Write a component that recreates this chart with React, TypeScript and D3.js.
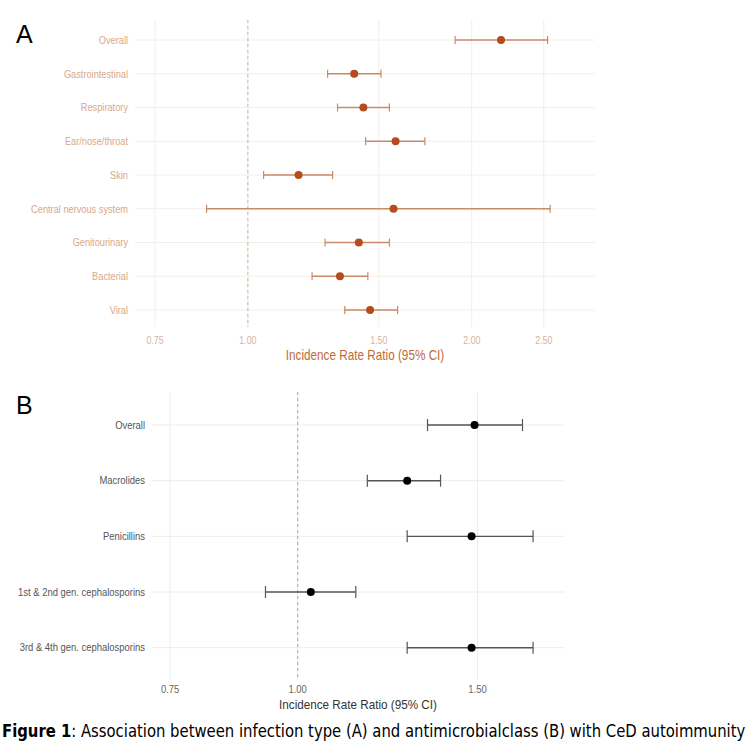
import React, { useRef, useLayoutEffect, useState } from 'react';
import * as d3 from 'd3';

// panel A: infection type
const typeLabels = ['Overall', 'Gastrointestinal', 'Respiratory', 'Ear/nose/throat', 'Skin', 'Central nervous system', 'Genitourinary', 'Bacterial', 'Viral'];
const typeIRR = [2.19, 1.39, 1.43, 1.58, 1.17, 1.57, 1.41, 1.33, 1.46];
const typeLow = [1.90, 1.28, 1.32, 1.44, 1.05, 0.88, 1.27, 1.22, 1.35];
const typeHigh = [2.53, 1.51, 1.55, 1.73, 1.30, 2.55, 1.55, 1.45, 1.59];
const typeTicks = [0.75, 1.0, 1.5, 2.0, 2.5];

// panel B: antimicrobial class
const classLabels = ['Overall', 'Macrolides', 'Penicillins', '1st & 2nd gen. cephalosporins', '3rd & 4th gen. cephalosporins'];
const classIRR = [1.49, 1.28, 1.48, 1.03, 1.48];
const classLow = [1.34, 1.17, 1.28, 0.93, 1.28];
const classHigh = [1.66, 1.38, 1.70, 1.14, 1.70];
const classTicks = [0.75, 1.0, 1.5];

const FONT = 'Liberation Sans, Arial, sans-serif';

// squeezed text, the source figure is compressed sideways
const Txt = ({ x, y, sx = 1, size, fill, anchor = 'start', dy = null, children }) => (
  <text transform={`translate(${x},${y}) scale(${sx},1)`} dy={dy} textAnchor={anchor} fontSize={size} fill={fill} fontFamily={FONT}>{children}</text>
);

const Forest = ({ labels, irr, lo, hi, ticks, domain, xRange, yRange, gridTop, gridBottom, labelX, tickY, titleY, col }) => {
  const x = d3.scaleLog().domain(domain).range(xRange);
  const y = d3.scalePoint().domain(labels).range(yRange);
  const cap = col.cap;
  return (
    <g>
      {labels.map((l) => (
        <line key={'h' + l} x1={xRange[0]} x2={xRange[1]} y1={y(l)} y2={y(l)} stroke={col.grid} strokeWidth={1} />
      ))}
      {ticks.map((t) => (
        <line key={'v' + t} x1={x(t)} x2={x(t)} y1={gridTop} y2={gridBottom} stroke={col.grid} strokeWidth={1} />
      ))}
      <line x1={x(1)} x2={x(1)} y1={gridTop} y2={gridBottom} stroke={col.ref} strokeWidth={1} strokeDasharray="3,3" />
      {labels.map((l, i) => (
        <g key={'e' + l}>
          <line x1={x(lo[i])} x2={x(hi[i])} y1={y(l)} y2={y(l)} stroke={col.bar} strokeWidth={1.4} />
          <line x1={x(lo[i])} x2={x(lo[i])} y1={y(l) - cap} y2={y(l) + cap} stroke={col.bar} strokeWidth={1.2} />
          <line x1={x(hi[i])} x2={x(hi[i])} y1={y(l) - cap} y2={y(l) + cap} stroke={col.bar} strokeWidth={1.2} />
          <circle cx={x(irr[i])} cy={y(l)} r={col.r} fill={col.point} />
          <Txt x={labelX} y={y(l)} dy="0.35em" sx={col.sx} anchor="end" size={col.labelSize} fill={col.label}>{l}</Txt>
        </g>
      ))}
      {ticks.map((t) => (
        <Txt key={'t' + t} x={x(t)} y={tickY} sx={col.sx} anchor="middle" size={col.tickSize} fill={col.tick}>{d3.format('.2f')(t)}</Txt>
      ))}
      <Txt x={(xRange[0] + xRange[1]) / 2} y={titleY} sx={col.sx} anchor="middle" size={col.titleSize} fill={col.title}>Incidence Rate Ratio (95% CI)</Txt>
    </g>
  );
};

const Caption = () => {
  const ref = useRef(null);
  const [sx, setSx] = useState(1);
  useLayoutEffect(() => {
    const w = ref.current.getComputedTextLength();
    if (w > 0) setSx(Math.min(1, 744 / w));
  }, []);
  return (
    <text ref={ref} transform={`translate(2,737) scale(${sx},1)`} fontSize={18} fontFamily={'"DejaVu Sans Condensed", "Liberation Sans Narrow", sans-serif'} fill="#000">
      <tspan fontWeight="bold">Figure 1</tspan>
      <tspan>: Association between infection type (A) and antimicrobialclass (B) with CeD autoimmunity</tspan>
    </text>
  );
};

export default function App() {
  return (
    <svg width={751} height={756} style={{ position: 'absolute', left: 0, top: 0, background: '#fff' }}>
      <text x={16} y={43} fontSize={25} fontFamily={FONT} fill="#000">A</text>
      <Forest
        labels={typeLabels} irr={typeIRR} lo={typeLow} hi={typeHigh} ticks={typeTicks}
        domain={[0.705, 2.93]} xRange={[135, 595]} yRange={[40, 310]}
        gridTop={20} gridBottom={327} labelX={128} tickY={344} titleY={360}
        col={{ sx: 0.84, grid: '#f4eee9', ref: '#c9b3a5', bar: '#c98a68', point: '#b44c1c', label: '#d8a888', tick: '#d7b29c', title: '#bf6a36', cap: 4, r: 4, labelSize: 11, tickSize: 10.5, titleSize: 14 }}
      />
      <text x={16} y={414} fontSize={25} fontFamily={FONT} fill="#000">B</text>
      <Forest
        labels={classLabels} irr={classIRR} lo={classLow} hi={classHigh} ticks={classTicks}
        domain={[0.7196, 1.824]} xRange={[151.7, 564.3]} yRange={[425, 647.7]}
        gridTop={392} gridBottom={680} labelX={145} tickY={693} titleY={709}
        col={{ sx: 0.9, grid: '#ececec', ref: '#a8a8a8', bar: '#555555', point: '#000000', label: '#555555', tick: '#666666', title: '#333333', cap: 6, r: 4, labelSize: 10.5, tickSize: 10.5, titleSize: 13 }}
      />
      <Caption />
    </svg>
  );
}
